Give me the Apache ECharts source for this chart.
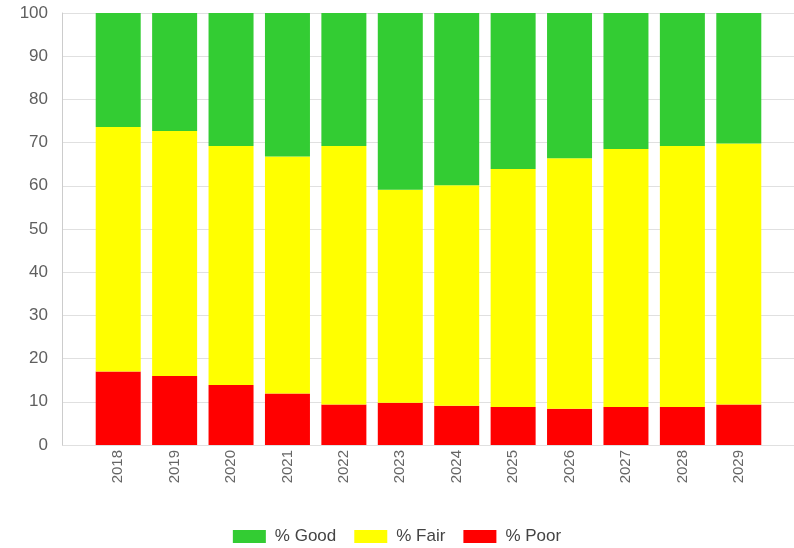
<!DOCTYPE html>
<html>
<head>
<meta charset="utf-8">
<script src="https://cdn.jsdelivr.net/npm/echarts@6/dist/echarts.min.js"></script>
<style>html,body{margin:0;padding:0;background:#fff}#c{width:794px;height:548px}</style>
</head>
<body>
<div id="c"></div>
<script>
const years = ['2018','2019','2020','2021','2022','2023','2024','2025','2026','2027','2028','2029'];
const poor = [17.0, 16.0, 13.9, 11.9, 9.4, 9.8, 9.1, 8.8, 8.4, 8.8, 8.8, 9.4];
const fair = [56.6, 56.7, 55.3, 54.9, 59.8, 49.3, 51.0, 55.1, 58.0, 59.7, 60.4, 60.4];
const good = [26.4, 27.3, 30.8, 33.2, 30.8, 40.9, 39.9, 36.1, 33.6, 31.5, 30.8, 30.2];
const yTicks = [0, 10, 20, 30, 40, 50, 60, 70, 80, 90, 100];

const chart = echarts.init(document.getElementById('c'), null, {renderer: 'canvas'});
const font = 'Liberation Sans, Arial, sans-serif';
chart.setOption({
  animation: false,
  textStyle: {fontFamily: font},
  legend: {
    data: ['% Good', '% Fair', '% Poor'],
    bottom: 3,
    left: 'center',
    padding: 0,
    itemWidth: 33,
    itemHeight: 13,
    itemGap: 18,
    icon: 'rect',
    textStyle: {fontSize: 17, color: '#444', fontFamily: font, padding: [0, 0, 0, 4]}
  },
  grid: [
    {left: 62, right: 0, top: 13, bottom: 103},
    {left: 90, right: 27, top: 13, bottom: 103}
  ],
  xAxis: [
    {gridIndex: 0, type: 'category', data: years, show: false},
    {gridIndex: 1, type: 'category', data: years,
     axisLine: {show: false}, axisTick: {show: false},
     axisLabel: {rotate: 90, fontSize: 15, color: '#666', margin: 5, fontFamily: font}}
  ],
  yAxis: [
    {gridIndex: 0, type: 'value', min: 0, max: 100, interval: 10,
     axisLine: {show: true, lineStyle: {color: '#ccc'}},
     axisTick: {show: false},
     splitLine: {show: true, lineStyle: {color: '#e0e0e0'}},
     axisLabel: {fontSize: 17, color: '#5f5f5f', margin: 14, fontFamily: font,
       formatter: v => yTicks.includes(v) ? String(v) : ''}},
    {gridIndex: 1, type: 'value', min: 0, max: 100, show: false}
  ],
  series: [
    {name: '% Poor', type: 'bar', stack: 's', xAxisIndex: 1, yAxisIndex: 1, data: poor, barWidth: 45, itemStyle: {color: '#ff0000'}},
    {name: '% Fair', type: 'bar', stack: 's', xAxisIndex: 1, yAxisIndex: 1, data: fair, barWidth: 45, itemStyle: {color: '#ffff00'}},
    {name: '% Good', type: 'bar', stack: 's', xAxisIndex: 1, yAxisIndex: 1, data: good, barWidth: 45, itemStyle: {color: '#33cc33'}}
  ]
});
</script>
</body>
</html>
